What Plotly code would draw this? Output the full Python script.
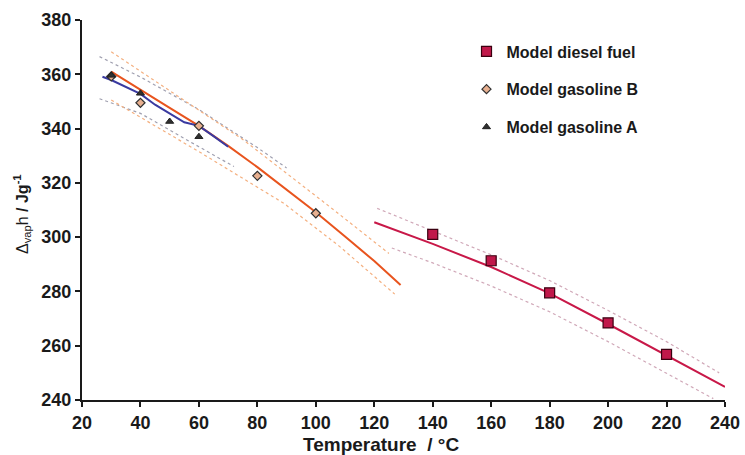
import plotly.graph_objects as go

# measured points
diesel_t = [140, 160, 180, 200, 220]
diesel_h = [301.0, 291.3, 279.5, 268.4, 256.8]

gas_b_t = [30, 40, 60, 80, 100]
gas_b_h = [359.2, 349.5, 341.0, 322.6, 308.8]

gas_a_t = [30, 40, 50, 60]
gas_a_h = [359.6, 353.0, 342.6, 337.0]

# model fit curves
diesel_fit_t = [120, 140, 160, 180, 200, 220, 240]
diesel_fit_h = [305.5, 297.5, 289.0, 279.3, 268.0, 256.5, 244.8]
diesel_up_t = [121, 140, 160, 180, 200, 220, 238]
diesel_up_h = [310.6, 302.3, 293.5, 284.0, 273.0, 261.5, 250.0]
diesel_lo_t = [126, 140, 160, 180, 200, 220, 236]
diesel_lo_h = [296.0, 290.5, 282.0, 272.5, 261.5, 250.0, 240.5]

gas_b_fit_t = [30, 40, 50, 60, 70, 80, 90, 100, 110, 120, 129]
gas_b_fit_h = [361.0, 354.2, 347.6, 341.0, 333.6, 325.8, 317.5, 309.2, 300.2, 291.2, 282.4]
gas_b_up_t = [30, 50, 75, 105, 125]
gas_b_up_h = [368.3, 354.0, 336.0, 311.0, 294.0]
gas_b_lo_t = [30, 60, 89, 108, 127]
gas_b_lo_h = [350.5, 331.5, 312.5, 296.7, 279.0]

gas_a_fit_t = [27, 30, 40, 45, 55, 60, 65, 70]
gas_a_fit_h = [359.1, 357.9, 352.8, 348.8, 342.3, 341.0, 337.2, 333.3]
gas_a_up_t = [26, 40, 60, 80, 90]
gas_a_up_h = [366.5, 359.0, 347.0, 333.0, 325.5]
gas_a_lo_t = [26, 40, 60, 72]
gas_a_lo_h = [351.0, 345.6, 333.3, 326.0]

FONT = "Arial, Liberation Sans, sans-serif"

fig = go.Figure()

# confidence bands (dotted)
bands = [
    (gas_a_up_t, gas_a_up_h, "#a0a0b0"),
    (gas_a_lo_t, gas_a_lo_h, "#a0a0b0"),
    (gas_b_up_t, gas_b_up_h, "#f4b080"),
    (gas_b_lo_t, gas_b_lo_h, "#f4b080"),
    (diesel_up_t, diesel_up_h, "#d0a8b8"),
    (diesel_lo_t, diesel_lo_h, "#d0a8b8"),
]
for bt, bh, col in bands:
    fig.add_trace(go.Scatter(x=bt, y=bh, mode="lines", showlegend=False,
                             line=dict(color=col, width=1.2, dash="dot"),
                             hoverinfo="skip"))

# fit lines
fig.add_trace(go.Scatter(x=gas_b_fit_t, y=gas_b_fit_h, mode="lines", showlegend=False,
                         line=dict(color="#e8541e", width=2)))
fig.add_trace(go.Scatter(x=gas_a_fit_t, y=gas_a_fit_h, mode="lines", showlegend=False,
                         line=dict(color="#3a3aa0", width=2)))
fig.add_trace(go.Scatter(x=diesel_fit_t, y=diesel_fit_h, mode="lines", showlegend=False,
                         line=dict(color="#c81848", width=2)))

# points
fig.add_trace(go.Scatter(x=diesel_t, y=diesel_h, mode="markers", name="Model diesel fuel",
                         legendgroup="d",
                         marker=dict(symbol="square", size=10, color="#c0184a",
                                     line=dict(color="#3a0010", width=1.2))))
fig.add_trace(go.Scatter(x=gas_b_t, y=gas_b_h, mode="markers", name="Model gasoline B",
                         legendgroup="b",
                         marker=dict(symbol="diamond", size=7, color="#e8b090",
                                     line=dict(color="#303030", width=1.2))))
fig.add_trace(go.Scatter(x=gas_a_t, y=gas_a_h, mode="markers", name="Model gasoline A",
                         legendgroup="a",
                         marker=dict(symbol="triangle-up", size=7, color="#303030",
                                     line=dict(color="#202020", width=1))))

fig.update_layout(
    width=745, height=455,
    margin=dict(l=82, r=19.5, t=20, b=55),
    paper_bgcolor="white", plot_bgcolor="white",
    font=dict(family=FONT, color="#1a1a1a"),
    legend=dict(x=0.598, y=0.962, xanchor="left", yanchor="top",
                font=dict(size=16, family=FONT, weight="bold"),
                tracegroupgap=14, traceorder="grouped",
                bgcolor="rgba(0,0,0,0)"),
    annotations=[
        dict(text="<b>Temperature  / °C</b>", xref="paper", yref="paper",
             x=0.465, y=-0.118, xanchor="center", yanchor="middle",
             showarrow=False, font=dict(size=19, family=FONT)),
        dict(text="Δ<sub>vap</sub>h <b>/ Jg<sup>-1</sup></b>", xref="paper", yref="paper",
             x=-0.093, y=0.49, xanchor="center", yanchor="middle", textangle=-90,
             showarrow=False, font=dict(size=16, family=FONT)),
    ],
)

# automargin off: the "240" label must not shrink the plot area
fig.update_xaxes(range=[20, 240], dtick=20, showgrid=False, zeroline=False,
                 showline=True, linecolor="#1a1a1a", linewidth=2,
                 ticks="outside", ticklen=5, tickwidth=1.5, tickcolor="#1a1a1a",
                 ticklabeloverflow="allow", automargin=False,
                 tickfont=dict(size=18, family=FONT, weight="bold"))
fig.update_yaxes(range=[240, 380], dtick=20, showgrid=False, zeroline=False,
                 showline=True, linecolor="#1a1a1a", linewidth=2,
                 ticks="outside", ticklen=5, tickwidth=1.5, tickcolor="#1a1a1a",
                 automargin=False,
                 tickfont=dict(size=18, family=FONT, weight="bold"))

# the page's default body margin would shift the figure by 8px
fig.write_html("out.html", config={"displayModeBar": False},
               post_script="document.body.style.margin='0';")
